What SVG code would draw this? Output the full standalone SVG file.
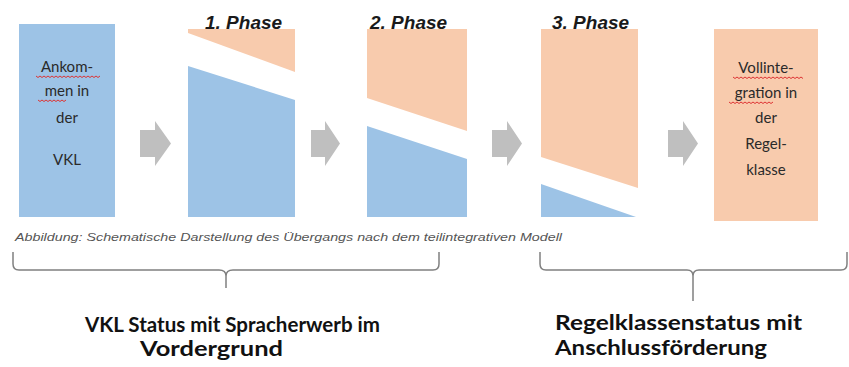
<svg xmlns="http://www.w3.org/2000/svg" width="849" height="367" viewBox="0 0 849 367">
<style>
.blue{fill:#9DC3E6}
.orange{fill:#F8CBAD}
.arrow{fill:#BFBFBF}
.phase{font-family:"Liberation Sans",Arial,sans-serif;font-weight:bold;font-style:italic;font-size:19px;fill:#1a1a1a}
.node{font-family:Lato,"Open Sans",sans-serif;font-size:15px;fill:#2a2a2a;text-anchor:middle}
.cap{font-family:"Liberation Sans",Arial,sans-serif;font-style:italic;font-size:11px;fill:#555}
.big{font-family:Lato,"Open Sans",sans-serif;font-weight:bold;font-size:21px;fill:#111}
.brace{fill:none;stroke:#808080;stroke-width:1.5}
.wavy{fill:none;stroke:#d33;stroke-width:1}
</style>
<rect width="849" height="367" fill="#fff"/>
<g id="vkl">
<rect class="blue" x="19" y="24" width="96" height="193"/>
<text class="node" x="67" y="72">Ankom-</text>
<text class="node" x="67" y="96">men in</text>
<text class="node" x="67" y="123">der</text>
<text class="node" x="67" y="165">VKL</text>
<path class="wavy" d="M36 76 l2 1.5 2 -1.5 2 1.5 2 -1.5 2 1.5 2 -1.5 2 1.5 2 -1.5 2 1.5 2 -1.5 2 1.5 2 -1.5 2 1.5 2 -1.5 2 1.5 2 -1.5 2 1.5 2 -1.5 2 1.5 2 -1.5 2 1.5 2 -1.5 2 1.5 2 -1.5 2 1.5 2 -1.5 2 1.5 2 -1.5 2 1.5 2 -1.5 2 1.5 2 -1.5"/>
<path class="wavy" d="M38 100 l2 1.5 2 -1.5 2 1.5 2 -1.5 2 1.5 2 -1.5 2 1.5 2 -1.5 2 1.5 2 -1.5 2 1.5 2 -1.5 2 1.5 2 -1.5"/>
</g>
<g id="phase1">
<text class="phase" x="205" y="29">1. Phase</text>
<polygon class="orange" points="188,29 295,29 295,72 188,33"/>
<polygon class="blue" points="188,66 295,100 295,217 188,217"/>
</g>
<g id="phase2">
<text class="phase" x="370" y="29">2. Phase</text>
<polygon class="orange" points="367,29 467,29 467,131 367,98"/>
<polygon class="blue" points="367,126 467,159 467,217 367,217"/>
</g>
<g id="phase3">
<text class="phase" x="552" y="29">3. Phase</text>
<polygon class="orange" points="541,29 638,29 638,188 541,157"/>
<polygon class="blue" points="541,184 636,217 541,217"/>
</g>
<g id="regelklasse">
<rect class="orange" x="714" y="29" width="104" height="192"/>
<text class="node" x="766" y="73">Vollinte-</text>
<text class="node" x="766" y="98">gration in</text>
<text class="node" x="766" y="123">der</text>
<text class="node" x="766" y="149">Regel-</text>
<text class="node" x="766" y="175">klasse</text>
<path class="wavy" d="M733 77 l2 1.5 2 -1.5 2 1.5 2 -1.5 2 1.5 2 -1.5 2 1.5 2 -1.5 2 1.5 2 -1.5 2 1.5 2 -1.5 2 1.5 2 -1.5 2 1.5 2 -1.5 2 1.5 2 -1.5 2 1.5 2 -1.5 2 1.5 2 -1.5 2 1.5 2 -1.5 2 1.5 2 -1.5 2 1.5 2 -1.5 2 1.5 2 -1.5 2 1.5 2 -1.5 2 1.5 2 -1.5 2 1.5"/>
<path class="wavy" d="M729 102 l2 1.5 2 -1.5 2 1.5 2 -1.5 2 1.5 2 -1.5 2 1.5 2 -1.5 2 1.5 2 -1.5 2 1.5 2 -1.5 2 1.5 2 -1.5 2 1.5 2 -1.5 2 1.5 2 -1.5 2 1.5 2 -1.5 2 1.5 2 -1.5"/>
</g>
<g id="connectors">
<polygon class="arrow" points="140,130 155,130 155,121 171,143.5 155,166 155,157 140,157"/>
<polygon class="arrow" points="311,130 325,130 325,121 340,143.5 325,166 325,157 311,157"/>
<polygon class="arrow" points="492,130 507,130 507,121 522,143.5 507,166 507,157 492,157"/>
<polygon class="arrow" points="668,130 683,130 683,121 698,143.5 683,166 683,157 668,157"/>
</g>
<text class="cap" x="15" y="241" textLength="547" lengthAdjust="spacingAndGlyphs">Abbildung: Schematische Darstellung des Übergangs nach dem teilintegrativen Modell</text>
<g id="brace-left">
<path class="brace" d="M13 252 V264 Q13 270 19 270 H219 Q226 270 226 276 V288 M226 276 Q226 270 233 270 H433 Q439 270 439 264 V252"/>
<text class="big" x="85" y="332" textLength="295" lengthAdjust="spacingAndGlyphs">VKL Status mit Spracherwerb im</text>
<text class="big" x="140" y="356" textLength="143" lengthAdjust="spacingAndGlyphs">Vordergrund</text>
</g>
<g id="brace-right">
<path class="brace" d="M540 252 V264 Q540 270 546 270 H687 Q693 270 693 276 V301 M693 276 Q693 270 699 270 H841 Q847 270 847 264 V252"/>
<text class="big" x="555" y="330" textLength="247" lengthAdjust="spacingAndGlyphs">Regelklassenstatus mit</text>
<text class="big" x="555" y="355" textLength="212" lengthAdjust="spacingAndGlyphs">Anschlussförderung</text>
</g>
</svg>
